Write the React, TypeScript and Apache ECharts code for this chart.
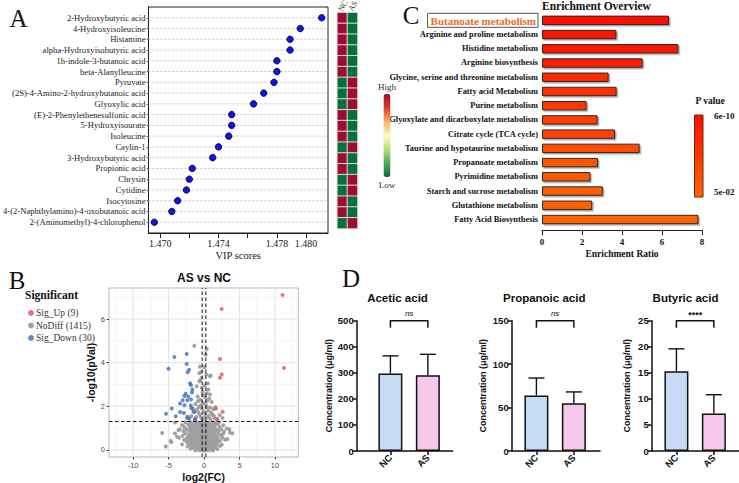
import React, { useEffect, useRef } from "react";
import * as echarts from "echarts";

const SERIF = "'Liberation Serif', 'Times New Roman', serif";
const SANS = "'Liberation Sans', Arial, Helvetica, sans-serif";

// ---------- Panel A: VIP scores + group heatmap ----------
const metabolites = [
  "2-Hydroxybutyric acid",
  "4-Hydroxyisoleucine",
  "Histamine",
  "alpha-Hydroxyisobutyric acid",
  "1h-indole-3-butanoic acid",
  "beta-Alanylleucine",
  "Pyruvate",
  "(2S)-4-Amino-2-hydroxybutanoic acid",
  "Glyoxylic acid",
  "(E)-2-Phenylethenesulfonic acid",
  "5-Hydroxyisourate",
  "Isoleucine",
  "Caylin-1",
  "3-Hydroxybutyric acid",
  "Propionic acid",
  "Chrysin",
  "Cytidine",
  "Isocytosine",
  "4-(2-Naphthylamino)-4-oxobutanoic acid",
  "2-(Aminomethyl)-4-chlorophenol",
];
const vipScores = [
  1.48107, 1.4796, 1.4789, 1.4789, 1.478, 1.478, 1.4778, 1.4771, 1.4764, 1.4749,
  1.4749, 1.4747, 1.474, 1.4736, 1.4722, 1.472, 1.4718, 1.4712, 1.4708, 1.4696,
];
// 1 = higher in NC, 0 = higher in AS
const ncHigher = [1, 1, 1, 1, 1, 1, 0, 0, 0, 1, 1, 1, 0, 1, 1, 0, 0, 1, 1, 0];
const heatGroups = ["NC", "AS"];
const vipTicks = [1.47, 1.472, 1.474, 1.476, 1.478, 1.48];
const vipTickLabels = [1.47, 1.474, 1.478, 1.48];

// ---------- Panel C: enrichment overview ----------
const pathways = [
  "Butanoate metabolism",
  "Arginine and proline metabolism",
  "Histidine metabolism",
  "Arginine biosynthesis",
  "Glycine, serine and threonine metabolism",
  "Fatty acid Metabolism",
  "Purine metabolism",
  "Glyoxylate and dicarboxylate metabolism",
  "Citrate cycle (TCA cycle)",
  "Taurine and hypotaurine metabolism",
  "Propanoate metabolism",
  "Pyrimidine metabolism",
  "Starch and sucrose metabolism",
  "Glutathione metabolism",
  "Fatty Acid Biosynthesis",
];
const enrichmentRatio = [6.35, 3.72, 6.82, 5.03, 3.33, 3.73, 2.23, 2.78, 3.65, 4.88, 2.8, 2.42, 3.04, 2.51, 7.82];
const pathwayPValue = [
  6e-10, 2.1e-9, 5.5e-9, 1.8e-8, 2.4e-7, 6.5e-7, 4.1e-6, 1.2e-5, 4.3e-5, 3.2e-4, 1.5e-3, 4.8e-3, 1.1e-2,
  2.3e-2, 5e-2,
];
const pLegendLabels = ["6e-10", "5e-02"];

// ---------- Panel B: volcano ----------
const sigUp: number[][] = [
  [2.49, 6.47], [11.08, 7.11], [11.27, 3.76], [2.25, 4.17], [2.49, 3.46],
  [2.25, 3.31], [1.69, 1.9], [2.63, 1.75], [1.87, 1.43],
];
const sigDown: number[][] = [
  [-4.18, 4.26], [-5.01, 3.72], [-2.44, 4.4], [-2.44, 3.94], [-2.11, 3.68],
  [-2.3, 3.56], [-1.97, 3.06], [-1.83, 2.97], [-1.64, 2.77], [-1.69, 2.63],
  [-2.58, 2.57], [-2.77, 2.47], [-2.21, 2.45], [-3.0, 2.28], [-2.35, 2.28],
  [-1.83, 2.31], [-3.38, 2.13], [-2.77, 2.05], [-1.86, 2.03], [-1.6, 1.89],
  [-4.55, 1.9], [-3.38, 1.74], [-5.35, 1.66], [-2.85, 1.69], [-3.99, 1.54],
  [-2.35, 1.52], [-1.36, 1.74], [-2.07, 1.43], [-1.27, 1.4], [-1.78, 1.92],
];
const noDiff: number[][] = [
  // above the p threshold, small fold change
  [-1.37, 4.78], [0.38, 4.63], [0.24, 4.37], [-0.56, 3.81], [0.05, 3.79], [0.85, 3.38], [-0.66, 3.53],
  [-0.42, 3.56], [0.33, 3.46], [0.94, 3.41], [-0.66, 3.15], [-0.56, 3.18], [-1.03, 2.92], [0.61, 2.77],
  [0.1, 2.95], [-0.3, 2.85], [0.4, 2.6], [0.85, 2.54], [-0.2, 2.65], [-0.9, 2.45], [0.2, 2.4],
  [-0.84, 2.24], [-0.5, 2.3], [0.5, 2.25], [1.1, 2.2], [0.75, 2.35], [-1.2, 2.1], [-0.1, 2.15],
  [0.3, 2.05], [0.85, 1.94], [1.31, 1.86], [1.6, 1.95], [-0.7, 1.98], [0.6, 1.8], [-0.3, 1.9],
  [-1.0, 1.85], [1.0, 1.7], [-1.5, 1.75], [0.2, 1.65], [-0.6, 1.6], [1.4, 1.55], [-1.1, 1.5],
  [0.5, 1.5], [2.2, 1.6], [-2.4, 1.45], [0.9, 1.42], [-0.2, 1.4], [1.9, 1.35], [0.0, 1.75],
  [0.35, 1.95], [-0.45, 2.05], [1.2, 1.62], [-1.3, 1.4], [0.7, 1.55], [-0.8, 1.72], [1.5, 1.45],
  [0.1, 1.5], [-0.4, 1.48], [2.6, 1.46], [-1.8, 1.55], [-0.15, 2.5], [0.55, 3.05], [-0.35, 3.3],
  // dense cloud below the threshold
  [-2.6, 1.25], [-1.9, 1.26], [-1.4, 1.24], [-0.9, 1.27], [-0.5, 1.23], [-0.1, 1.26], [0.3, 1.25],
  [0.7, 1.24], [1.2, 1.27], [1.6, 1.22], [2.1, 1.25],
  [-3.1, 1.14], [-2.2, 1.16], [-1.7, 1.13], [-1.2, 1.15], [-0.7, 1.17], [-0.3, 1.14], [0.1, 1.15],
  [0.5, 1.16], [0.9, 1.13], [1.4, 1.15], [1.9, 1.17], [2.72, 1.13],
  [-2.8, 1.05], [-2.0, 1.04], [-1.5, 1.06], [-1.0, 1.03], [-0.6, 1.05], [-0.2, 1.06], [0.2, 1.04],
  [0.6, 1.05], [1.1, 1.07], [1.5, 1.04], [2.2, 1.05],
  [-3.4, 0.95], [-2.5, 0.94], [-1.8, 0.96], [-1.3, 0.95], [-0.8, 0.93], [-0.4, 0.96], [0.0, 0.95],
  [0.4, 0.94], [0.8, 0.96], [1.3, 0.95], [1.8, 0.93], [2.4, 0.96], [3.2, 0.98], [3.57, 0.94],
  [-2.9, 0.85], [-2.1, 0.86], [-1.6, 0.84], [-1.1, 0.85], [-0.6, 0.87], [-0.2, 0.84], [0.3, 0.85],
  [0.7, 0.86], [1.1, 0.84], [1.6, 0.85], [2.1, 0.87], [2.8, 0.84],
  [-4.1, 0.75], [-2.6, 0.76], [-1.9, 0.74], [-1.4, 0.75], [-0.9, 0.77], [-0.4, 0.74], [0.1, 0.75],
  [0.5, 0.76], [0.9, 0.74], [1.4, 0.75], [2.0, 0.77], [2.7, 0.74], [3.99, 0.76], [-5.9, 0.77],
  [-3.0, 0.65], [-2.2, 0.66], [-1.7, 0.64], [-1.2, 0.65], [-0.7, 0.67], [-0.2, 0.64], [0.2, 0.65],
  [0.7, 0.66], [1.2, 0.64], [1.7, 0.65], [2.3, 0.67],
  [-3.5, 0.55], [-2.4, 0.54], [-1.9, 0.56], [-1.4, 0.55], [-0.9, 0.53], [-0.5, 0.56], [0.0, 0.55],
  [0.4, 0.54], [0.9, 0.56], [1.4, 0.55], [1.9, 0.53], [2.6, 0.56], [3.3, 0.5], [-3.8, 0.6],
  [-2.8, 0.45], [-2.1, 0.44], [-1.6, 0.46], [-1.1, 0.45], [-0.6, 0.43], [-0.2, 0.46], [0.3, 0.45],
  [0.7, 0.44], [1.2, 0.46], [1.7, 0.45], [2.3, 0.43], [3.0, 0.46], [-4.69, 0.41],
  [-4.6, 0.35], [-2.4, 0.36], [-1.8, 0.34], [-1.3, 0.35], [-0.8, 0.37], [-0.3, 0.34], [0.1, 0.35],
  [0.6, 0.36], [1.0, 0.34], [1.5, 0.35], [2.0, 0.37],
  [-3.1, 0.25], [-2.0, 0.24], [-1.5, 0.26], [-1.0, 0.25], [-0.5, 0.23], [0.0, 0.26], [0.4, 0.25],
  [0.8, 0.24], [1.3, 0.26], [1.8, 0.25], [2.5, 0.23],
  [-5.4, 0.15], [-2.3, 0.16], [-1.7, 0.14], [-1.2, 0.15], [-0.7, 0.17], [-0.2, 0.14], [0.2, 0.15],
  [0.7, 0.16], [1.1, 0.14], [1.6, 0.15], [2.25, 0.18],
  [-1.9, 0.05], [-1.4, 0.06], [-0.9, 0.04], [-0.4, 0.05], [0.1, 0.06], [0.5, 0.04], [1.0, 0.05],
  [1.4, 0.06], [1.9, 0.04],
  [-1.2, -0.03], [-0.6, -0.02], [-0.1, -0.04], [0.3, -0.03], [0.8, -0.02], [1.3, -0.03],
  [-4.08, 1.25], [-3.6, 0.9], [3.66, 0.79],
];
const volcanoXTicks = [-10, -5, 0, 5, 10];
const volcanoXMinor = [-12.5, -7.5, -2.5, 2.5, 7.5, 12.5];
const volcanoYTicks = [0, 2, 4, 6];
const volcanoYMinor = [1, 3, 5, 7];
const log2FcCut = 0.263;
const log10PCut = 1.301;

// ---------- Panel D: short-chain fatty acids ----------
const groups = ["NC", "AS"];
const groupColors = ["#c6dbf3", "#f6c7ea"];
const acids = ["Acetic acid", "Propanoic acid", "Butyric acid"];
const acidMean = [
  [297, 291],
  [64, 55],
  [15.3, 7.2],
];
const acidMeanPlusSd = [
  [365, 371],
  [84, 68],
  [19.6, 10.8],
];
const acidAxisMax = [500, 150, 25];
const acidAxisStep = [100, 50, 5];
const acidSignificance = ["ns", "ns", "****"];

function pColor(p: number): string {
  const lo = Math.log10(6e-10);
  const hi = Math.log10(5e-2);
  const t = Math.min(1, Math.max(0, (Math.log10(p) - lo) / (hi - lo)));
  const g = Math.round(12 + t * 88);
  return `rgb(255,${g},0)`;
}

function buildOption(): any {
  const grid: any[] = [];
  const xAxis: any[] = [];
  const yAxis: any[] = [];
  const series: any[] = [];
  const graphic: any[] = [];

  // ---- Panel A ----
  const vipMin = 1.4692;
  const vipMax = 1.4815;
  grid.push({ left: 133, top: 7, width: 195, height: 226, show: true, borderColor: "#222", borderWidth: 1, backgroundColor: "#fff" });
  xAxis.push({
    gridIndex: 0, type: "value", min: vipMin, max: vipMax,
    axisLine: { show: true, onZero: false, lineStyle: { color: "#222", width: 1 } },
    axisTick: { show: true, length: 5, customValues: vipTicks, lineStyle: { color: "#222" } },
    axisLabel: { customValues: vipTickLabels, formatter: (v: number) => v.toFixed(3), fontFamily: SERIF, fontSize: 10, color: "#222", margin: 5 },
    splitLine: { show: false },
    name: "VIP scores", nameLocation: "middle", nameGap: 17,
    nameTextStyle: { fontFamily: SERIF, fontSize: 10.5, color: "#222" },
  });
  yAxis.push({
    gridIndex: 0, type: "value", inverse: true, min: -1, max: metabolites.length,
    axisLine: { show: true, onZero: false, lineStyle: { color: "#222" } },
    axisTick: { show: true, length: 2, customValues: metabolites.map((_, i) => i), lineStyle: { color: "#666" } },
    axisLabel: { customValues: metabolites.map((_, i) => i), formatter: (v: number) => metabolites[v] ?? "", fontFamily: SERIF, fontSize: 8.6, color: "#222", margin: 3 },
    splitLine: { show: false },
  });
  series.push({
    type: "custom", xAxisIndex: 0, yAxisIndex: 0, silent: true, z: 1,
    data: metabolites.map((_, i) => [vipMin, i]),
    renderItem: (_p: any, api: any) => {
      const row = api.value(1);
      const a = api.coord([vipMin, row]);
      const b = api.coord([vipMax, row]);
      return { type: "line", shape: { x1: a[0], y1: a[1], x2: b[0], y2: b[1] }, style: { stroke: "#b5b5b5", lineWidth: 0.8, lineDash: [2, 2] } };
    },
  });
  series.push({
    type: "scatter", xAxisIndex: 0, yAxisIndex: 0, z: 3, symbolSize: 6.5,
    data: vipScores.map((v, i) => [v, i]),
    itemStyle: { color: "#1010f5", borderColor: "#000", borderWidth: 0.8, opacity: 1 },
  });

  // heatmap next to the dot plot
  grid.push({ left: 337.3, top: 12.6, width: 20.2, height: 216 });
  xAxis.push({ gridIndex: 1, type: "category", data: heatGroups, show: false });
  yAxis.push({ gridIndex: 1, type: "category", data: metabolites, inverse: true, show: false });
  const heatData: number[][] = [];
  ncHigher.forEach((h, i) => {
    heatData.push([0, i, h ? 1 : -1]);
    heatData.push([1, i, h ? -1 : 1]);
  });
  const heatIndex = series.length;
  series.push({
    type: "heatmap", xAxisIndex: 1, yAxisIndex: 1, data: heatData,
    itemStyle: { borderColor: "#dcdcdc", borderWidth: 1 },
  });
  graphic.push(
    { type: "text", x: 343, y: 6, rotation: Math.PI / 3, style: { text: "NC", font: `8px ${SERIF}`, fill: "#333", align: "center", verticalAlign: "middle" } },
    { type: "text", x: 353, y: 6, rotation: Math.PI / 3, style: { text: "AS", font: `8px ${SERIF}`, fill: "#333", align: "center", verticalAlign: "middle" } },
  );

  // ---- Panel C ----
  grid.push({ left: 542, top: 13.2, width: 160, height: 213.4 });
  xAxis.push({
    gridIndex: 2, type: "value", min: 0, max: 8, interval: 2, offset: 3.5,
    axisLine: { show: true, onZero: false, lineStyle: { color: "#222", width: 1 } },
    axisTick: { show: true, length: 5, lineStyle: { color: "#222" } },
    axisLabel: { fontFamily: SERIF, fontWeight: "bold", fontSize: 9, color: "#111", margin: 7 },
    splitLine: { show: false },
    name: "Enrichment Ratio", nameLocation: "middle", nameGap: 19,
    nameTextStyle: { fontFamily: SERIF, fontWeight: "bold", fontSize: 9.5, color: "#111" },
  });
  yAxis.push({
    gridIndex: 2, type: "category", data: pathways, inverse: true,
    axisLine: { show: false }, axisTick: { show: false },
    axisLabel: {
      margin: 4, fontFamily: SERIF, fontWeight: "bold", fontSize: 8.4, color: "#111",
      formatter: (v: string) => (v === pathways[0] ? `{hl|${v}}` : v),
      rich: {
        hl: { fontFamily: SERIF, fontWeight: "bold", fontSize: 11, color: "#ee6a24", borderColor: "#555", borderWidth: 1, padding: [2, 2, 1, 3] },
      },
    },
  });
  series.push({
    type: "bar", xAxisIndex: 2, yAxisIndex: 2, barWidth: 9.4,
    data: enrichmentRatio.map((v, i) => ({ value: v, itemStyle: { color: pColor(pathwayPValue[i]) } })),
    itemStyle: { borderColor: "#2a2a2a", borderWidth: 1, shadowColor: "rgba(0,0,0,0.35)", shadowOffsetX: 1.5, shadowOffsetY: 1.5, shadowBlur: 1 },
  });
  graphic.push(
    { type: "text", x: 542, y: 6, style: { text: "Enrichment Overview", font: `bold 11.5px ${SERIF}`, fill: "#111", align: "left", verticalAlign: "middle" } },
    { type: "text", x: 695.5, y: 101, style: { text: "P value", font: `bold 9.5px ${SERIF}`, fill: "#111", align: "left", verticalAlign: "middle" } },
    {
      type: "rect", shape: { x: 694.5, y: 115, width: 8.5, height: 82 },
      style: {
        fill: new echarts.graphic.LinearGradient(0, 0, 0, 1, [
          { offset: 0, color: pColor(6e-10) },
          { offset: 1, color: pColor(5e-2) },
        ]),
        stroke: "#6a2a05", lineWidth: 1,
      },
    },
    { type: "text", x: 714, y: 116, style: { text: pLegendLabels[0], font: `bold 9px ${SERIF}`, fill: "#111", align: "left", verticalAlign: "middle" } },
    { type: "text", x: 714, y: 192, style: { text: pLegendLabels[1], font: `bold 9px ${SERIF}`, fill: "#111", align: "left", verticalAlign: "middle" } },
  );

  // ---- Panel B: volcano ----
  const vxMin = -13.4, vxMax = 13.3, vyMin = -0.33, vyMax = 7.43;
  grid.push({ left: 109, top: 288, width: 189.3, height: 170, show: true, borderColor: "#a3a3a3", borderWidth: 0.8, backgroundColor: "#fff" });
  xAxis.push({
    gridIndex: 3, type: "value", min: vxMin, max: vxMax,
    axisLine: { show: false, onZero: false },
    axisTick: { show: true, length: 2.5, customValues: volcanoXTicks, lineStyle: { color: "#444" } },
    axisLabel: { customValues: volcanoXTicks, fontFamily: SANS, fontSize: 7.5, color: "#4d4d4d", margin: 4 },
    splitLine: { show: false },
    name: "log2(FC)", nameLocation: "middle", nameGap: 14,
    nameTextStyle: { fontFamily: SANS, fontWeight: "bold", fontSize: 10.5, color: "#111" },
  });
  yAxis.push({
    gridIndex: 3, type: "value", min: vyMin, max: vyMax,
    axisLine: { show: false, onZero: false },
    axisTick: { show: true, length: 2.5, customValues: volcanoYTicks, lineStyle: { color: "#444" } },
    axisLabel: { customValues: volcanoYTicks, fontFamily: SANS, fontSize: 7.5, color: "#4d4d4d", margin: 4 },
    splitLine: { show: false },
    name: "-log10(pVal)", nameLocation: "middle", nameGap: 13,
    nameTextStyle: { fontFamily: SANS, fontWeight: "bold", fontSize: 10.5, color: "#111" },
  });
  const gridLines: number[][] = [];
  volcanoXTicks.forEach((v) => gridLines.push([v, 0, 1]));
  volcanoXMinor.forEach((v) => gridLines.push([v, 0, 0]));
  volcanoYTicks.forEach((v) => gridLines.push([v, 1, 1]));
  volcanoYMinor.forEach((v) => gridLines.push([v, 1, 0]));
  series.push({
    type: "custom", xAxisIndex: 3, yAxisIndex: 3, silent: true, z: 1,
    data: gridLines,
    renderItem: (_p: any, api: any) => {
      const v = api.value(0);
      const isY = api.value(1) === 1;
      const major = api.value(2) === 1;
      const a = isY ? api.coord([vxMin, v]) : api.coord([v, vyMin]);
      const b = isY ? api.coord([vxMax, v]) : api.coord([v, vyMax]);
      return { type: "line", shape: { x1: a[0], y1: a[1], x2: b[0], y2: b[1] }, style: { stroke: major ? "#e0e0e0" : "#efefef", lineWidth: major ? 0.9 : 0.6 } };
    },
  });
  series.push({
    name: `NoDiff (1415)`, type: "scatter", xAxisIndex: 3, yAxisIndex: 3, z: 2, symbolSize: 4,
    data: noDiff, itemStyle: { color: "#9d9d9d", opacity: 0.95 },
  });
  series.push({
    name: `Sig_Up (${sigUp.length})`, type: "scatter", xAxisIndex: 3, yAxisIndex: 3, z: 3, symbolSize: 4,
    data: sigUp, itemStyle: { color: "#e3505e" },
  });
  series.push({
    name: `Sig_Down (${sigDown.length})`, type: "scatter", xAxisIndex: 3, yAxisIndex: 3, z: 3, symbolSize: 4,
    data: sigDown, itemStyle: { color: "#3d70b8" },
  });
  series.push({
    type: "custom", xAxisIndex: 3, yAxisIndex: 3, silent: true, z: 4,
    data: [[-log2FcCut, 0], [log2FcCut, 0], [log10PCut, 1]],
    renderItem: (_p: any, api: any) => {
      const v = api.value(0);
      const isY = api.value(1) === 1;
      const a = isY ? api.coord([vxMin, v]) : api.coord([v, vyMin]);
      const b = isY ? api.coord([vxMax, v]) : api.coord([v, vyMax]);
      return { type: "line", shape: { x1: a[0], y1: a[1], x2: b[0], y2: b[1] }, style: { stroke: "#111", lineWidth: 1, lineDash: [3.5, 2.5] } };
    },
  });
  graphic.push(
    { type: "text", x: 204, y: 278, style: { text: "AS vs NC", font: `bold 12px ${SANS}`, fill: "#111", align: "center", verticalAlign: "middle" } },
    { type: "text", x: 25, y: 295, style: { text: "Significant", font: `bold 11.5px ${SERIF}`, fill: "#111", align: "left", verticalAlign: "middle" } },
  );

  // ---- Panel D ----
  const dLeft = [356.7, 511.7, 651.7];
  const dXRange = [
    [0.1, 2.66],
    [0.34, 2.7],
    [0.34, 2.67],
  ];
  const dNameGap = [19, 24, 20];
  const dTitleX = [397.5, 544.2, 685.5];
  const pxPerGroup = 37.45;
  acids.forEach((acid, k) => {
    const gi = 4 + k;
    const [x0, x1] = dXRange[k];
    grid.push({ left: dLeft[k], top: 320.7, width: (x1 - x0) * pxPerGroup, height: 130.3 });
    xAxis.push({
      gridIndex: gi, type: "value", min: x0, max: x1,
      axisLine: { show: true, onZero: false, lineStyle: { color: "#111", width: 1.5 } },
      axisTick: { show: true, length: 4, customValues: [1, 2], lineStyle: { color: "#111", width: 1.5 } },
      axisLabel: { customValues: [1, 2], formatter: (v: number) => groups[Math.round(v) - 1] ?? "", rotate: 45, fontFamily: SANS, fontWeight: "bold", fontSize: 9.5, color: "#111", margin: 5 },
      splitLine: { show: false },
    });
    yAxis.push({
      gridIndex: gi, type: "value", min: 0, max: acidAxisMax[k], interval: acidAxisStep[k],
      axisLine: { show: true, onZero: false, lineStyle: { color: "#111", width: 1.5 } },
      axisTick: { show: true, length: 4, lineStyle: { color: "#111", width: 1.5 } },
      axisLabel: { fontFamily: SANS, fontWeight: "bold", fontSize: 9.5, color: "#111", margin: 3 },
      splitLine: { show: false },
      name: "Concentration (μg/ml)", nameLocation: "middle", nameGap: dNameGap[k],
      nameTextStyle: { fontFamily: SANS, fontWeight: "bold", fontSize: 9, color: "#111" },
    });
    series.push({
      type: "bar", xAxisIndex: gi, yAxisIndex: gi, barWidth: 24, z: 2,
      data: groups.map((_, j) => ({ value: [j + 1, acidMean[k][j]], itemStyle: { color: groupColors[j] } })),
      itemStyle: { borderColor: "#111", borderWidth: 1.5 },
    });
    series.push({
      type: "custom", xAxisIndex: gi, yAxisIndex: gi, silent: true, z: 1,
      data: groups.map((_, j) => [j + 1, acidMean[k][j], acidMeanPlusSd[k][j]]),
      encode: { x: 0, y: [1, 2] },
      renderItem: (_p: any, api: any) => {
        const x = api.value(0);
        const p0 = api.coord([x, api.value(1)]);
        const p1 = api.coord([x, api.value(2)]);
        const st = { stroke: "#111", lineWidth: 1.4 };
        return {
          type: "group",
          children: [
            { type: "line", shape: { x1: p0[0], y1: p0[1], x2: p1[0], y2: p1[1] }, style: st },
            { type: "line", shape: { x1: p1[0] - 8, y1: p1[1], x2: p1[0] + 8, y2: p1[1] }, style: st },
          ],
        };
      },
    });
    series.push({
      type: "custom", xAxisIndex: gi, yAxisIndex: gi, silent: true, z: 3,
      data: [[1, 2, acidAxisMax[k]]],
      encode: { x: [0, 1], y: 2 },
      renderItem: (_p: any, api: any) => {
        const a = api.coord([api.value(0), api.value(2)]);
        const b = api.coord([api.value(1), api.value(2)]);
        const sig = acidSignificance[k];
        return {
          type: "group",
          children: [
            { type: "polyline", shape: { points: [[a[0], a[1] + 7], [a[0], a[1]], [b[0], a[1]], [b[0], a[1] + 7]] }, style: { stroke: "#111", lineWidth: 1.5, fill: "none" } },
            {
              type: "text",
              style: {
                text: sig, x: (a[0] + b[0]) / 2, y: a[1] - (sig === "ns" ? 3 : 1),
                align: "center", verticalAlign: "bottom",
                font: sig === "ns" ? `italic 8px ${SANS}` : `bold 9px ${SANS}`, fill: "#111",
              },
            },
          ],
        };
      },
    });
    graphic.push({ type: "text", x: dTitleX[k], y: 298, style: { text: acid, font: `bold 11.5px ${SANS}`, fill: "#111", align: "center", verticalAlign: "middle" } });
  });

  // panel letters
  const letters: [string, number, number][] = [
    ["A", 18.5, 18],
    ["B", 17, 280],
    ["C", 411, 15.5],
    ["D", 351, 278],
  ];
  letters.forEach(([t, x, y]) =>
    graphic.push({ type: "text", x, y, style: { text: t, font: `25px ${SERIF}`, fill: "#111", align: "center", verticalAlign: "middle" } }),
  );

  return {
    animation: false,
    backgroundColor: "#fff",
    grid, xAxis, yAxis, series, graphic,
    legend: {
      data: [`Sig_Up (${sigUp.length})`, `NoDiff (1415)`, `Sig_Down (${sigDown.length})`],
      orient: "vertical", left: 23, top: 303, itemWidth: 6, itemHeight: 6, itemGap: 2.5, icon: "circle",
      textStyle: { fontFamily: SERIF, fontSize: 9.5, color: "#333", padding: [0, 0, 0, -3] },
      selectedMode: false,
    },
    visualMap: {
      type: "continuous", seriesIndex: heatIndex, min: -1, max: 1, calculable: false,
      orient: "vertical", left: 363, top: 67, itemWidth: 7, itemHeight: 83,
      text: ["High", "Low"], textGap: 3,
      textStyle: { fontFamily: SERIF, fontSize: 9, color: "#333" },
      inRange: { color: ["#05703a", "#4aa95a", "#b9e07a", "#fdfbbf", "#fdb061", "#de3b2e", "#9c0c33"] },
    },
  };
}

export default function App() {
  const ref = useRef<HTMLDivElement>(null);
  useEffect(() => {
    document.body.style.margin = "0";
    const chart = echarts.init(ref.current!, null, { renderer: "svg" });
    chart.setOption(buildOption());
    return () => chart.dispose();
  }, []);
  return <div ref={ref} style={{ width: 739, height: 483, background: "#fff" }} />;
}
